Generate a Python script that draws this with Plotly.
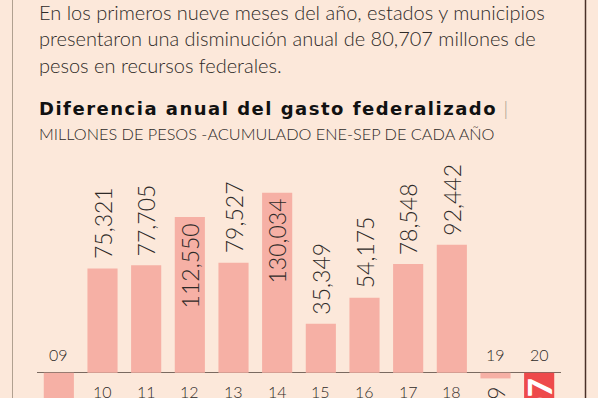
import plotly.graph_objects as go

# ---------------- data ----------------
years = ["09", "10", "11", "12", "13", "14", "15", "16", "17", "18", "19", "20"]
values = [-47829, 75321, 77705, 112550, 79527, 130034, 35349, 54175, 78548, 92442, -4129, -80707]
label_inside = [False, False, False, True, False, True, False, False, False, False, False, True]
highlight_year = "20"

intro_lines = [
    "En los primeros nueve meses del año, estados y municipios",
    "presentaron una disminución anual de 80,707 millones de",
    "pesos en recursos federales.",
]
title_text = "Diferencia anual del gasto federalizado"
subtitle_text = "MILLONES DE PESOS -ACUMULADO ENE-SEP DE CADA AÑO"

# ---------------- style ----------------
W, H = 598, 398
ML, MR, MT, MB = 37, 37, 140, 0
PW, PH = W - ML - MR, H - MT - MB
BG = "#FCE8DA"
PINK = "#F6B0A5"
RED = "#EE4A4B"
TXT = "#2e2a28"
FONT = "Lato"
UNITS_PER_PX = 723.1
ZERO_PY = 372.7
y_top = (ZERO_PY - MT) * UNITS_PER_PX
y_bot = -(H - MB - ZERO_PY) * UNITS_PER_PX


def px_x(px):
    return (px - ML) / PW


def px_y(py):
    return (H - MB - py) / PH


colors = [RED if y == highlight_year else PINK for y in years]

fig = go.Figure(
    go.Bar(
        x=years,
        y=values,
        marker=dict(color=colors, line=dict(width=0)),
        hoverinfo="skip",
    )
)

annotations = []
lab_font = dict(family=FONT, size=23, color=TXT, weight=300)
yr_font = dict(family=FONT, size=16, color=TXT, weight=300)
for i, (yr, v, inside) in enumerate(zip(years, values, label_inside)):
    lab = f"{v:,}"
    if v >= 0:
        if inside:
            annotations.append(dict(x=i, y=v, xref="x", yref="y", text=lab, textangle=-90,
                                    showarrow=False, yanchor="top", yshift=-4, font=lab_font))
        else:
            annotations.append(dict(x=i, y=v, xref="x", yref="y", text=lab, textangle=-90,
                                    showarrow=False, yanchor="bottom", yshift=7, font=lab_font))
        annotations.append(dict(x=i, y=0, xref="x", yref="y", text=yr, showarrow=False,
                                yanchor="middle", yshift=-19, font=yr_font))
    else:
        if inside:
            annotations.append(dict(x=i, y=0, xref="x", yref="y", text=lab, textangle=-90,
                                    showarrow=False, yanchor="top", yshift=-3,
                                    font=dict(family=FONT, size=33, color="white", weight=900)))
        else:
            annotations.append(dict(x=i, y=v, xref="x", yref="y", text=lab, textangle=-90,
                                    showarrow=False, yanchor="top", yshift=-6, font=lab_font))
        annotations.append(dict(x=i, y=0, xref="x", yref="y", text=yr, showarrow=False,
                                yanchor="middle", yshift=18, font=yr_font))

# intro paragraph
for i, line in enumerate(intro_lines):
    annotations.append(dict(x=px_x(37), y=px_y(11.5 + 26.7 * i), xref="paper", yref="paper",
                            text=line, showarrow=False, xanchor="left", yanchor="middle",
                            font=dict(family=FONT, size=20, color=TXT, weight=300)))
# title
annotations.append(dict(x=px_x(37), y=px_y(108.5), xref="paper", yref="paper",
                        text=f"<span style='letter-spacing:1.5px'><b>{title_text}</b></span>"
                             f" <span style='color:#b5a594;font-weight:300'>|</span>",
                        showarrow=False, xanchor="left", yanchor="middle",
                        font=dict(family="DejaVu Sans", size=18, color="#111111")))
annotations.append(dict(x=px_x(37), y=px_y(133.5), xref="paper", yref="paper",
                        text=subtitle_text, showarrow=False, xanchor="left", yanchor="middle",
                        font=dict(family=FONT, size=16.3, color=TXT, weight=300)))

shapes = [
    dict(type="line", xref="paper", yref="paper", x0=px_x(12.5), x1=px_x(12.5), y0=-0.05, y1=1.7,
         line=dict(color="#b0a090", width=1)),
    dict(type="line", xref="paper", yref="paper", x0=px_x(585.5), x1=px_x(585.5), y0=-0.05, y1=1.7,
         line=dict(color="#4a3028", width=1.5)),
]

fig.update_layout(
    width=W, height=H,
    margin=dict(l=ML, r=MR, t=MT, b=MB, pad=0),
    paper_bgcolor=BG, plot_bgcolor=BG,
    bargap=0.31,
    showlegend=False,
    hovermode=False,
    annotations=annotations,
    shapes=shapes,
    xaxis=dict(visible=False, type="category", range=[-0.5, 11.5]),
    yaxis=dict(range=[y_bot, y_top], showgrid=False, showticklabels=False, ticks="",
               zeroline=True, zerolinecolor="#7a6a60", zerolinewidth=1),
)

fig.write_html("out.html", config={"displayModeBar": False, "staticPlot": True},
               post_script="document.body.style.margin='0';document.body.style.background='%s';" % BG)
